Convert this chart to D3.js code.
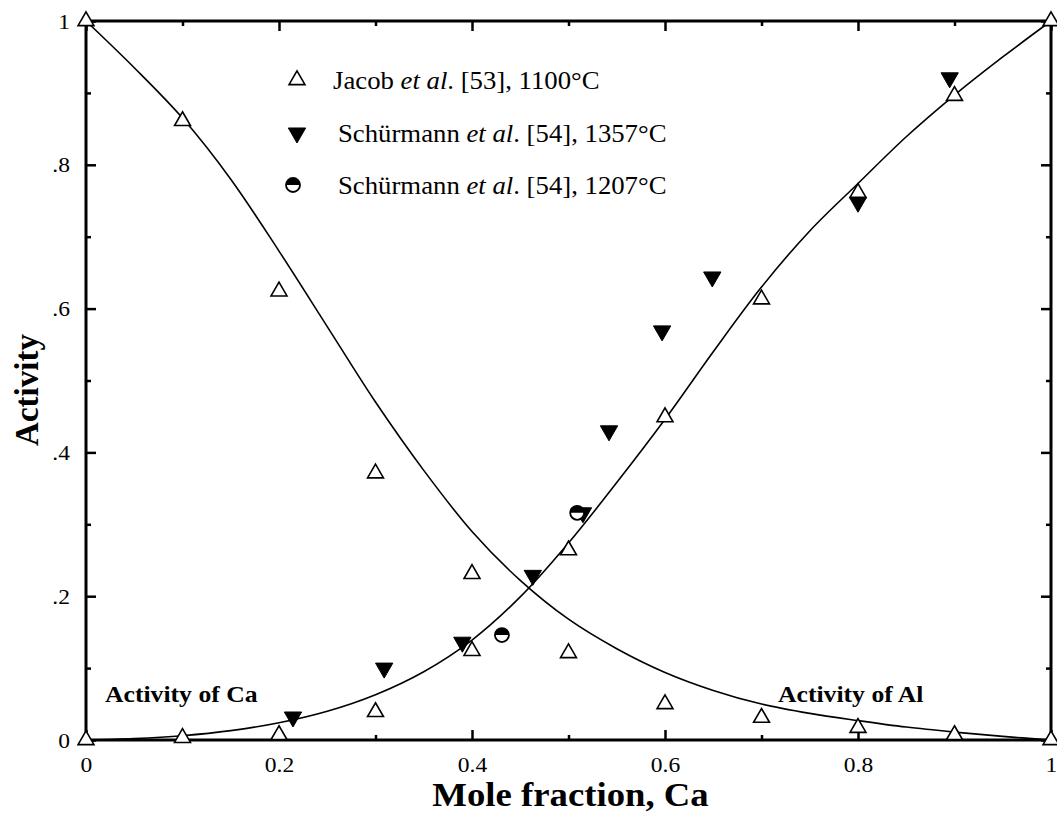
<!DOCTYPE html>
<html>
<head>
<meta charset="utf-8">
<script src="https://cdn.jsdelivr.net/npm/d3@7"></script>
<style>
  html, body { margin: 0; padding: 0; background: #fff; }
  svg { display: block; }
  text { font-family: "Liberation Serif", "Times New Roman", serif; fill: #000; }
</style>
</head>
<body>
<script>
// Ca–Al liquid: activities of Ca and Al vs. mole fraction of Ca

// model curves (sampled)
const modelX     = [0, 0.05, 0.1, 0.15, 0.2, 0.25, 0.3, 0.35, 0.4, 0.45, 0.5, 0.55, 0.6, 0.65, 0.7, 0.75, 0.8, 0.85, 0.9, 0.95, 1];
const modelCa    = [0, 0.002, 0.006, 0.013, 0.024, 0.04, 0.063, 0.095, 0.139, 0.199, 0.274, 0.358, 0.446, 0.54, 0.63, 0.708, 0.774, 0.839, 0.897, 0.95, 1];
const modelAl    = [1, 0.935, 0.865, 0.78, 0.68, 0.575, 0.47, 0.375, 0.29, 0.222, 0.168, 0.127, 0.094, 0.069, 0.05, 0.037, 0.027, 0.018, 0.011, 0.005, 0];

// Jacob et al. [53], 1100 °C
const jacobX     = [0, 0.1, 0.2, 0.3, 0.4, 0.5, 0.6, 0.7, 0.8, 0.9, 1];
const jacobCa    = [0, 0.003, 0.007, 0.039, 0.124, 0.264, 0.449, 0.613, 0.761, 0.896, 1];
const jacobAl    = [1, 0.861, 0.624, 0.371, 0.231, 0.121, 0.05, 0.031, 0.017, 0.007, 0];

// Schürmann et al. [54], 1357 °C
const s1357X     = [0.2145, 0.309, 0.39, 0.463, 0.515, 0.542, 0.597, 0.649, 0.8, 0.895];
const s1357Ca    = [0.032, 0.1, 0.136, 0.229, 0.316, 0.43, 0.569, 0.644, 0.748, 0.921];

// Schürmann et al. [54], 1207 °C
const s1207X     = [0.431, 0.509];
const s1207Ca    = [0.146, 0.316];

// axes
const xMajor       = [0, 0.2, 0.4, 0.6, 0.8, 1];
const xMajorLabels = ["0", "0.2", "0.4", "0.6", "0.8", "1"];
const yMajor       = [0, 0.2, 0.4, 0.6, 0.8, 1];
const yMajorLabels = ["0", ".2", ".4", ".6", ".8", "1"];
const minorTicks   = [0.1, 0.3, 0.5, 0.7, 0.9];

const legendLabels = [
  ["Jacob ", "et al", ". [53], 1100°C"],
  ["Schürmann ", "et al", ". [54], 1357°C"],
  ["Schürmann ", "et al", ". [54], 1207°C"]
];
const curveLabels = ["Activity of Ca", "Activity of Al"];

const W = 1057, H = 816;
const m = { left: 86, right: 6, top: 21, bottom: 76 };
const SX = 1.07; // horizontal glyph stretch

const svg = d3.select("body").append("svg").attr("width", W).attr("height", H);

const x = d3.scaleLinear().domain([0, 1]).range([m.left, W - m.right]);
const y = d3.scaleLinear().domain([0, 1]).range([H - m.bottom, m.top]);

// text placed at (tx, ty) with a slight horizontal stretch
function label(tx, ty, opts) {
  const g = svg.append("g").attr("transform", `translate(${tx},${ty}) scale(${opts.sx || SX},1)`);
  const t = g.append("text")
    .attr("font-size", opts.size)
    .attr("font-weight", opts.bold ? "bold" : null)
    .attr("text-anchor", opts.anchor || "start");
  return t;
}

// ---- ticks (all inward) ----
function tickAxis(axisFn, scale, vals, size, labels, tf) {
  const a = axisFn(scale).tickValues(vals).tickSize(-size).tickPadding(size + 8);
  a.tickFormat(labels ? (d, i) => labels[i] : () => "");
  const g = svg.append("g").attr("transform", tf).call(a);
  g.select(".domain").remove();
  g.selectAll(".tick line").attr("stroke", "#000").attr("stroke-width", 2.5);
  return g;
}
const xb = `translate(0,${y(0)})`, xt = `translate(0,${y(1)})`;
const yl = `translate(${x(0)},0)`, yr = `translate(${x(1)},0)`;

const gxB = tickAxis(d3.axisBottom, x, xMajor, 10, xMajorLabels, xb);
tickAxis(d3.axisBottom, x, minorTicks, 5, null, xb);
tickAxis(d3.axisTop, x, xMajor, 10, null, xt);
tickAxis(d3.axisTop, x, minorTicks, 5, null, xt);
const gyL = tickAxis(d3.axisLeft, y, yMajor, 10, yMajorLabels, yl);
tickAxis(d3.axisLeft, y, minorTicks, 5, null, yl);
tickAxis(d3.axisRight, y, yMajor, 10, null, yr);
tickAxis(d3.axisRight, y, minorTicks, 5, null, yr);

gxB.selectAll(".tick text")
  .attr("font-size", 22)
  .attr("y", 16).attr("dy", "0.71em")
  .attr("transform", `scale(${SX},1)`);
gyL.selectAll(".tick text")
  .attr("font-size", 22)
  .attr("x", -16 / SX).attr("dy", "0.32em")
  .attr("transform", `scale(${SX},1)`);

// ---- frame ----
svg.append("rect")
  .attr("x", x(0)).attr("y", y(1))
  .attr("width", x(1) - x(0)).attr("height", y(0) - y(1))
  .attr("fill", "none").attr("stroke", "#000").attr("stroke-width", 3);

// ---- model curves ----
const line = d3.line().x(d => x(d[0])).y(d => y(d[1])).curve(d3.curveCatmullRom.alpha(0.5));
[modelCa, modelAl].forEach(arr => {
  svg.append("path")
    .attr("d", line(modelX.map((v, i) => [v, arr[i]])))
    .attr("fill", "none").attr("stroke", "#000").attr("stroke-width", 1.6);
});

// ---- markers ----
const triUp = d3.symbol().type(d3.symbolTriangle).size(110)();
const triDown = d3.symbol().type(d3.symbolTriangle).size(130)();
const halfArc = d3.arc().innerRadius(0).outerRadius(7).startAngle(-Math.PI / 2).endAngle(Math.PI / 2)();

function openTri(g, cx, cy) {
  g.append("path").attr("d", triUp).attr("transform", `translate(${cx},${cy})`)
    .attr("fill", "#fff").attr("stroke", "#000").attr("stroke-width", 1.6);
}
function filledTriDown(g, cx, cy) {
  g.append("path").attr("d", triDown).attr("transform", `translate(${cx},${cy}) rotate(180)`)
    .attr("fill", "#000").attr("stroke", "#000").attr("stroke-width", 1);
}
function halfCircle(g, cx, cy) {
  const gg = g.append("g").attr("transform", `translate(${cx},${cy})`);
  gg.append("circle").attr("r", 7).attr("fill", "#fff").attr("stroke", "#000").attr("stroke-width", 1.8);
  gg.append("path").attr("d", halfArc).attr("fill", "#000");
}

const pts = svg.append("g");
jacobX.forEach((v, i) => { openTri(pts, x(v), y(jacobCa[i])); openTri(pts, x(v), y(jacobAl[i])); });
s1357X.forEach((v, i) => filledTriDown(pts, x(v), y(s1357Ca[i])));
s1207X.forEach((v, i) => halfCircle(pts, x(v), y(s1207Ca[i])));

// ---- legend ----
const legend = svg.append("g");
const legY = [80, 133, 185];
openTri(legend, 297, legY[0]);
filledTriDown(legend, 297, legY[1]);
halfCircle(legend, 293, legY[2]);
const legX = [333, 338, 338];
legendLabels.forEach((parts, i) => {
  const t = label(legX[i], legY[i] + 9, { size: 25 });
  t.append("tspan").text(parts[0]);
  t.append("tspan").attr("font-style", "italic").text(parts[1]);
  t.append("tspan").text(parts[2]);
});

// ---- curve labels ----
label(105, 702, { size: 24, bold: true }).text(curveLabels[0]);
label(778, 702, { size: 24, bold: true }).text(curveLabels[1]);

// ---- axis titles ----
label((x(0) + x(1)) / 2 + 2, 806, { size: 34, bold: true, anchor: "middle", sx: 1.08 })
  .text("Mole fraction, Ca");
svg.append("text")
  .attr("transform", `translate(38,390) rotate(-90)`)
  .attr("text-anchor", "middle").attr("font-size", 33).attr("font-weight", "bold")
  .text("Activity");
</script>
</body>
</html>
